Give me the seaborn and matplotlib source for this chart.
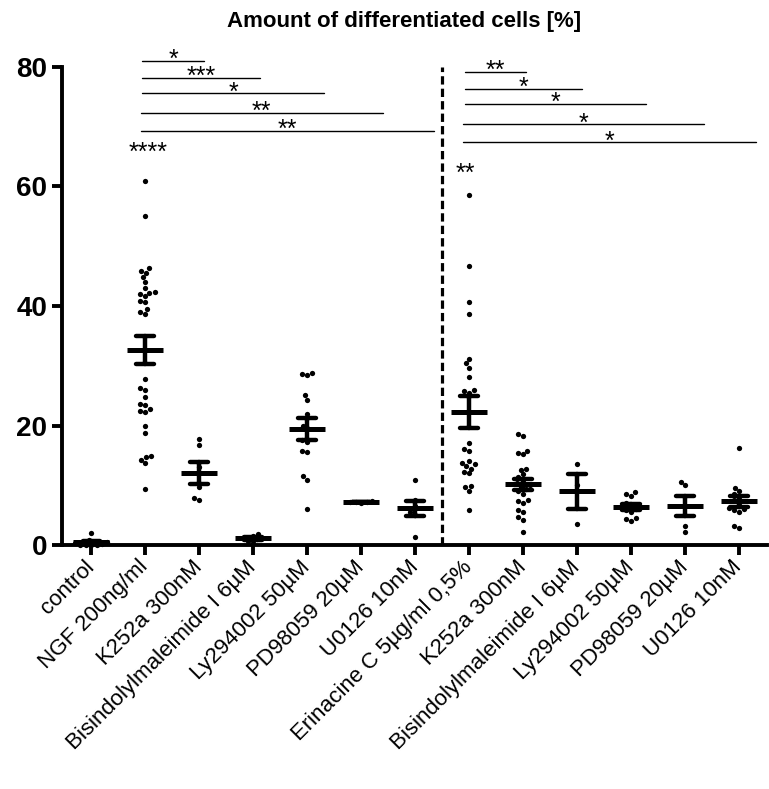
import numpy as np
import pandas as pd
import matplotlib
matplotlib.use("Agg")
import matplotlib.pyplot as plt
import seaborn as sns

# ---- data -------------------------------------------------------------
tick_labels = ["control", "NGF 200ng/ml", "K252a 300nM", "Bisindolylmaleimide I 6µM",
               "Ly294002 50µM", "PD98059 20µM", "U0126 10nM", "Erinacine C 5µg/ml 0,5%",
               "K252a 300nM", "Bisindolylmaleimide I 6µM", "Ly294002 50µM",
               "PD98059 20µM", "U0126 10nM"]

control = [0, 0, 0, 0, 0.2, 0.3, 0.5, 0.8, 2.0]
ngf = [60.9, 55.1, 46.3, 45.9, 45.5, 44.8, 44.0, 43.0, 42.4, 42.2, 42.0, 41.6,
       40.9, 40.6, 39.5, 39.0, 38.7, 27.8, 26.2, 26.0, 24.7, 23.6, 23.4, 22.7,
       22.5, 22.2, 20.0, 18.7, 14.9, 14.7, 14.3, 13.8, 9.3]
ngf_k252a = [17.7, 16.7, 13.0, 9.7, 7.8, 7.6]
ngf_bis = [0.4, 0.7, 1.0, 1.2, 1.5, 1.9]
ngf_ly = [28.8, 28.6, 28.4, 25.1, 24.3, 22.0, 20.0, 19.5, 17.5, 17.2, 15.7, 15.5,
          11.5, 10.9, 6.0]
ngf_pd = [7.1, 7.2, 7.2, 7.3, 7.2]
ngf_u0126 = [10.9, 7.5, 6.5, 5.5, 5.0, 1.4]
erin = [58.6, 46.7, 40.6, 38.7, 31.1, 30.4, 29.7, 28.2, 26.0, 25.8, 25.5, 17.0,
        16.0, 15.7, 14.0, 13.8, 13.5, 13.2, 12.8, 12.3, 12.0, 9.9, 9.7, 9.1, 5.8]
erin_k252a = [18.6, 18.3, 15.8, 15.4, 15.2, 12.8, 12.6, 11.8, 11.3, 10.8, 10.3,
              10.0, 9.7, 9.3, 9.0, 8.6, 7.6, 7.4, 7.1, 5.8, 5.5, 4.7, 4.2, 2.1]
erin_bis = [13.5, 10.0, 3.5]
erin_ly = [8.8, 8.6, 8.2, 7.0, 6.5, 6.0, 5.8, 5.5, 4.5, 4.3, 4.1]
erin_pd = [10.6, 10.0, 6.6, 3.2, 2.2]
erin_u0126 = [16.3, 9.6, 9.0, 8.5, 8.0, 7.5, 7.0, 6.2, 6.0, 5.8, 5.6, 3.1, 2.9]

series = [control, ngf, ngf_k252a, ngf_bis, ngf_ly, ngf_pd, ngf_u0126,
          erin, erin_k252a, erin_bis, erin_ly, erin_pd, erin_u0126]

# significance brackets: (start, end, height, label)
brackets_ngf = [(0.95, 2.09, 81.0, "*"), (0.95, 3.13, 78.2, "***"),
                (0.95, 4.31, 75.6, "*"), (0.92, 5.40, 72.3, "**"),
                (0.92, 6.35, 69.3, "**")]
brackets_erin = [(6.92, 8.05, 79.2, "**"), (6.92, 9.10, 76.3, "*"),
                 (6.93, 10.28, 73.8, "*"), (6.88, 11.35, 70.4, "*"),
                 (6.88, 12.31, 67.4, "*")]
vs_control = [(1.06, 64.4, "****"), (6.93, 61.0, "**")]

# ---- table ------------------------------------------------------------
keys = [f"g{i:02d}" for i in range(len(series))]
df = pd.concat([pd.DataFrame({"group": k, "value": v}) for k, v in zip(keys, series)],
               ignore_index=True)

# ---- figure -----------------------------------------------------------
sns.set_style("ticks")
plt.rcParams["font.family"] = ["Liberation Sans", "DejaVu Sans"]
plt.rcParams["text.color"] = "black"
plt.rcParams["xtick.color"] = "black"
plt.rcParams["ytick.color"] = "black"
plt.rcParams["axes.edgecolor"] = "black"

fig = plt.figure(figsize=(7.69, 7.89), dpi=100)
ax = fig.add_axes([62 / 769, 1 - 545 / 789, (767 - 62) / 769, (545 - 67) / 789])

sns.swarmplot(data=df, x="group", y="value", order=keys, color="black",
              size=3.8, ax=ax, zorder=3)
for coll in ax.collections:
    coll.set_clip_on(False)

sns.pointplot(data=df, x="group", y="value", order=keys, errorbar="se",
              linestyle="none", marker="_", markersize=26, markeredgewidth=3.6,
              color="black", capsize=0.32, err_kws={"linewidth": 3.2},
              ax=ax, zorder=4)
for ln in ax.lines:
    ln.set_clip_on(False)

ax.axvline(6.5, ymin=0, ymax=1, color="black", lw=2.3,
           linestyle=(0, (2.6, 1.3)), zorder=2)

for x0, x1, y, lab in brackets_ngf + brackets_erin:
    ax.plot([x0, x1], [y, y], color="black", lw=1.0, clip_on=False)
    ax.annotate(lab, xy=((x0 + x1) / 2, y), xytext=(0, -4.5), textcoords="offset points",
                ha="center", va="baseline", fontsize=18, annotation_clip=False)
for x, y, lab in vs_control:
    ax.text(x, y, lab, ha="center", va="baseline", fontsize=18)

ax.set_xlim(-0.54, 12.52)
ax.set_ylim(0, 80)
ax.set_yticks([0, 20, 40, 60, 80])
ax.set_xticks(range(len(keys)))
ax.set_xticklabels(tick_labels, rotation=45, ha="right", va="center",
                   rotation_mode="anchor", fontsize=16)
for t in ax.get_yticklabels():
    t.set_fontweight("bold")
    t.set_fontsize(20)
ax.set_xlabel("")
ax.set_ylabel("")

for side in ["top", "right"]:
    ax.spines[side].set_visible(False)
for side in ["left", "bottom"]:
    ax.spines[side].set_linewidth(2.8)
ax.tick_params(axis="both", width=2.8, length=7.5, color="black", pad=3)
ax.tick_params(axis="x", pad=6)

fig.text(404 / 769, 1 - 22 / 789, "Amount of differentiated cells [%]",
         ha="center", va="center", fontsize=16, fontweight="bold")

fig.savefig("out.png", dpi=100)
